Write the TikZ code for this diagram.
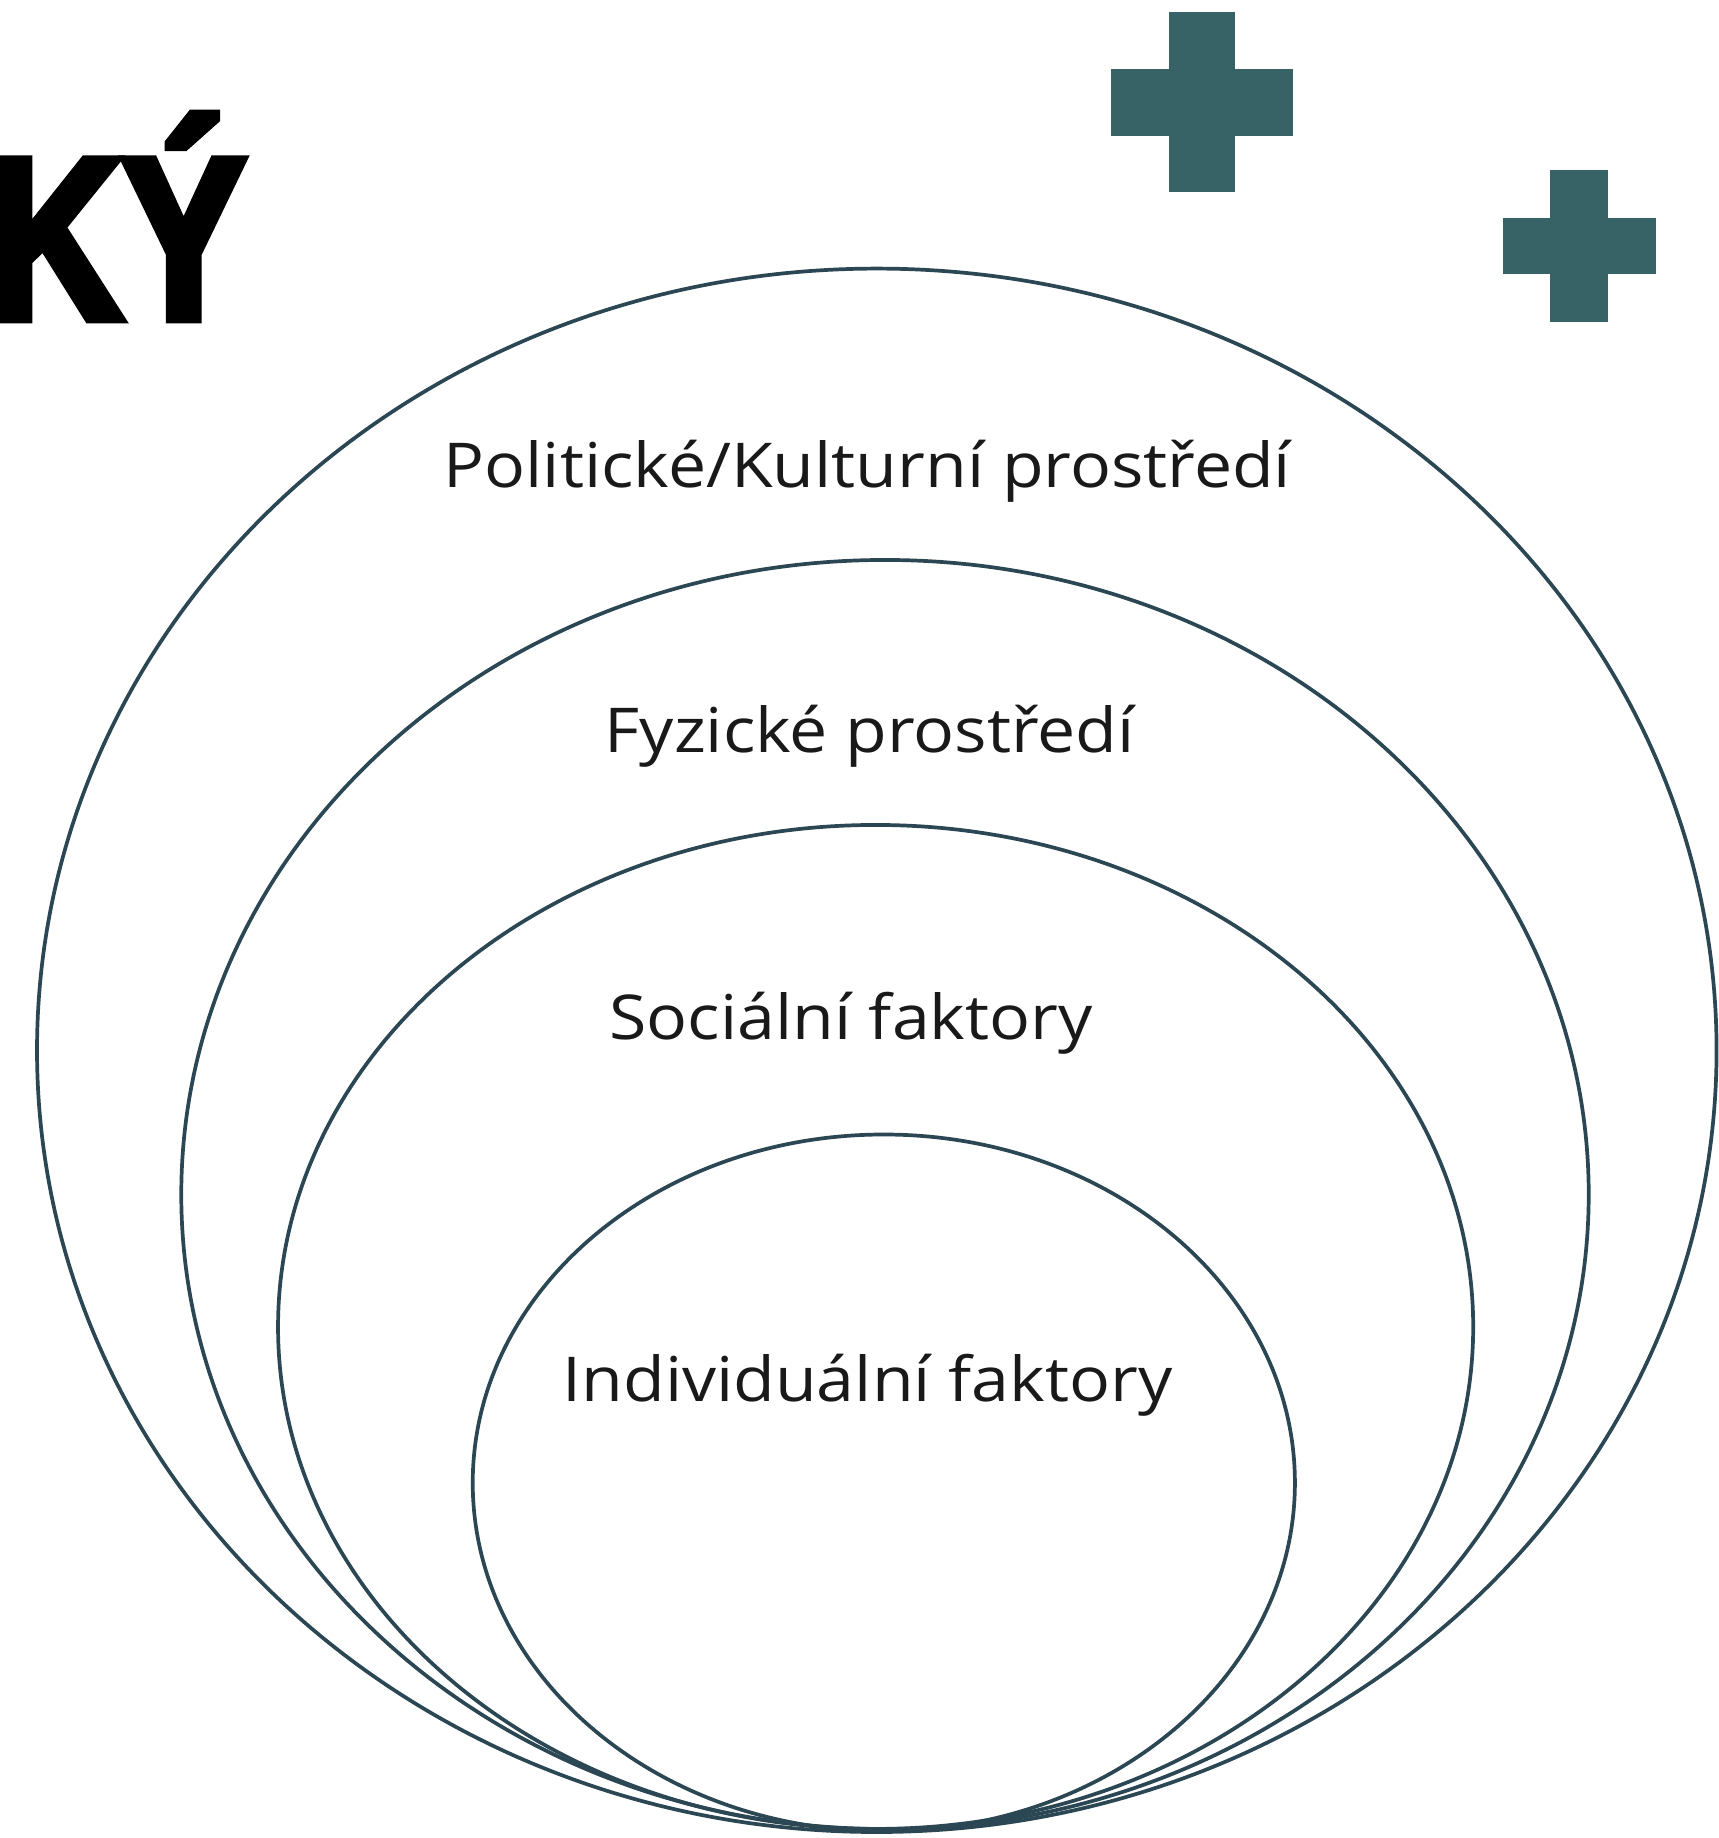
\documentclass[tikz,border=0pt]{standalone}
\usepackage{fontspec}
\setmainfont{Open Sans}[FakeStretch=1.1]
\newfontfamily\titlefont{Liberation Sans}[BoldFont={Liberation Sans Bold}, BoldFeatures={FakeStretch=0.8, FakeBold=4}]
\usetikzlibrary{shapes.geometric,positioning}
\definecolor{plusteal}{HTML}{376266}
\definecolor{ringline}{HTML}{2B4753}

\begin{document}
\begin{tikzpicture}[x=0.01cm, y=-0.01cm]
  \tikzset{ring/.style = {shape=ellipse, draw=ringline, line width=0.9pt, inner sep=0pt}}
  \tikzset{ringlabel/.style = {font=\fontsize{15}{18}\selectfont, text=black!90, inner sep=0pt}}
  \tikzset{plusbar/.style = {fill=plusteal, draw=none}}

  \useasboundingbox (0,0) rectangle (1466,1568);

  % title fragment, cut off at the left edge
  \node[anchor=base east, inner sep=0pt, font=\titlefont\bfseries\fontsize{56}{60}\selectfont] (title) at (210,272) {KÝ};

  % plus signs
  \fill[plusbar] (997,10) rectangle (1054,164);
  \fill[plusbar] (948,59) rectangle (1103,116);
  \fill[plusbar] (1322,145) rectangle (1372,275);
  \fill[plusbar] (1282,186) rectangle (1413,234);

  % nested rings
  \node[ring, minimum width=14.32cm, minimum height=13.33cm] (outer) at (748,896) {};
  \node[ring, minimum width=12.00cm, minimum height=10.82cm] (physical) at (755,1019) {};
  \node[ring, minimum width=10.19cm, minimum height=8.56cm] (social) at (747,1132) {};
  \node[ring, minimum width=7.01cm, minimum height=5.94cm] (individual) at (754,1265) {};

  \node[ringlabel] (lpolit) at (740,402) {Politické/Kulturní prostředí};
  \node[ringlabel] (lphys) at (742,628) {Fyzické prostředí};
  \node[ringlabel] (lsoc) at (726,873) {Sociální faktory};
  \node[ringlabel] (lind) at (740,1182) {Individuální faktory};
\end{tikzpicture}
\end{document}
